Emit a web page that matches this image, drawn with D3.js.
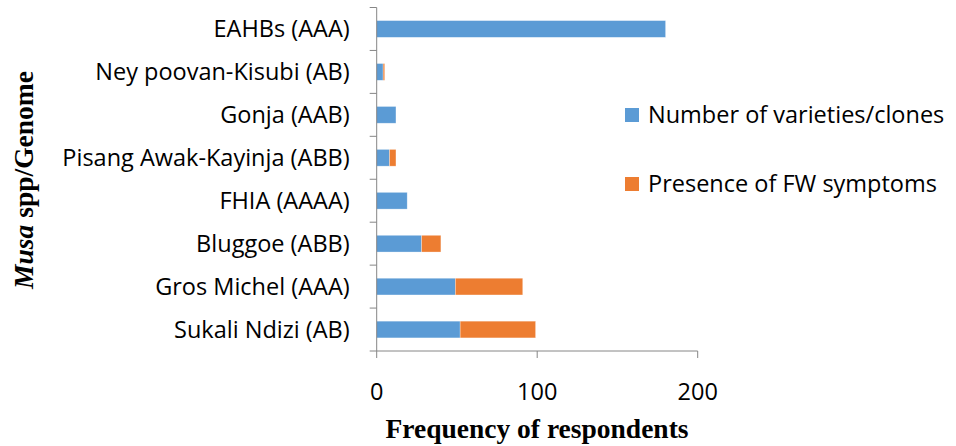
<!DOCTYPE html>
<html><head><meta charset="utf-8">
<script src="https://cdn.jsdelivr.net/npm/d3@7"></script>
<style>body{margin:0;background:#fff}</style>
</head><body>
<svg id="c" width="956" height="446"></svg>
<script>
const categories = ["EAHBs (AAA)","Ney poovan-Kisubi (AB)","Gonja (AAB)","Pisang Awak-Kayinja (ABB)","FHIA (AAAA)","Bluggoe (ABB)","Gros Michel (AAA)","Sukali Ndizi (AB)"];
const varieties = [180, 4, 12, 8, 19, 28, 49, 52];
const fwSymptoms = [0, 1, 0, 4, 0, 12, 42, 47];
const seriesNames = ["Number of varieties/clones","Presence of FW symptoms"];
const seriesColors = ["#5B9BD5","#ED7D31"];
const xTicks = [0, 100, 200];

(function(){
const svg = d3.select("#c");
const pL = 376.7, pR = 697.7, pT = 7.5, pB = 351;
const fs = 23.5;
const x = d3.scaleLinear().domain([0,200]).range([pL,pR]);
const y = d3.scaleBand().domain(categories).range([pT,pB]).paddingInner(0.61).paddingOuter(0.305);

const rows = categories.map((c,i)=>({cat:c, v:[varieties[i], fwSymptoms[i]]}));
const stack = d3.stack().keys([0,1]).value((d,k)=>d.v[k])(rows);

svg.append("g").selectAll("g").data(stack).join("g")
  .attr("fill",(d,i)=>seriesColors[i])
  .selectAll("rect").data(d=>d.map(p=>({p,cat:p.data.cat}))).join("rect")
  .attr("x",d=>x(d.p[0])).attr("width",d=>Math.max(0,x(d.p[1])-x(d.p[0])))
  .attr("y",d=>y(d.cat)).attr("height",y.bandwidth())
  .attr("stroke","#fff").attr("stroke-opacity",0.5).attr("stroke-width",0.6);

const axisColor = "#868686";
const ya = svg.append("g").attr("transform",`translate(${pL},0)`);
ya.append("line").attr("x1",0).attr("x2",0).attr("y1",pT).attr("y2",pB).attr("stroke",axisColor).attr("stroke-width",1);
const yb = d3.range(categories.length+1).map(i=>pT + i*(pB-pT)/categories.length);
ya.selectAll("line.t").data(yb).join("line").attr("class","t")
  .attr("x1",-7).attr("x2",0).attr("y1",d=>d).attr("y2",d=>d).attr("stroke",axisColor);
ya.selectAll("text").data(categories).join("text")
  .attr("x",-27).attr("y",d=>y(d)+y.bandwidth()/2).attr("dy","0.36em")
  .attr("text-anchor","end").attr("font-family","Open Sans, sans-serif").attr("font-size",fs).attr("fill","#000")
  .text(d=>d);

const xa = svg.append("g").attr("transform",`translate(0,${pB})`);
xa.append("line").attr("x1",pL).attr("x2",pR).attr("stroke",axisColor);
xa.selectAll("line.t").data(xTicks).join("line").attr("class","t")
  .attr("x1",d=>x(d)).attr("x2",d=>x(d)).attr("y1",0).attr("y2",7).attr("stroke",axisColor);
xa.selectAll("text").data(xTicks).join("text")
  .attr("x",d=>x(d)).attr("y",41).attr("dy","0.36em").attr("text-anchor","middle")
  .attr("font-family","Open Sans, sans-serif").attr("font-size",fs).text(d=>d);

svg.append("text").attr("x",537).attr("y",437.5)
  .attr("text-anchor","middle").attr("font-family","Liberation Serif, serif").attr("font-weight","bold").attr("font-size",27.5)
  .text("Frequency of respondents");

const yt = svg.append("text").attr("transform","translate(33,180) rotate(-90)")
  .attr("text-anchor","middle").attr("font-family","Liberation Serif, serif").attr("font-weight","bold").attr("font-size",27.5);
yt.append("tspan").attr("font-style","italic").text("Musa");
yt.append("tspan").text(" spp/Genome");

const lg = svg.append("g");
const ly = [115, 184];
lg.selectAll("rect").data(seriesNames).join("rect")
  .attr("x",625).attr("y",(d,i)=>ly[i]-7).attr("width",14).attr("height",14).attr("fill",(d,i)=>seriesColors[i]);
lg.selectAll("text").data(seriesNames).join("text")
  .attr("x",648).attr("y",(d,i)=>ly[i]).attr("dy","0.36em")
  .attr("font-family","Open Sans, sans-serif").attr("font-size",fs).text(d=>d);
})();
</script>
</body></html>
